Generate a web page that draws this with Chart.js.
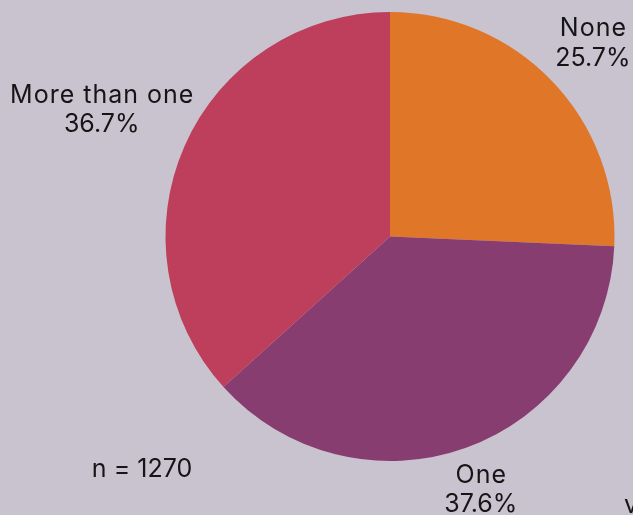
<!DOCTYPE html>
<html>
<head>
<meta charset="utf-8">
<script src="https://cdn.jsdelivr.net/npm/chart.js@4"></script>
<style>
  html, body { margin: 0; padding: 0; background: #c9c3d0; }
  #wrap { width: 633px; height: 515px; position: relative; }
</style>
</head>
<body>
<div id="wrap"><canvas id="myChart"></canvas></div>
<script>
const categorias = ['None', 'One', 'More than one'];
const percentuais = [25.7, 37.6, 36.7];
const cores = ['#e07628', '#883d71', '#bd3f5b'];
const totalN = 1270;

const fonte = '25px Inter, "DejaVu Sans", sans-serif';

// labels outside the slices, along the middle angle of each arc
const rotulosFora = {
    id: 'rotulosFora',
    afterDatasetsDraw(chart, args, opts) {
        const c = chart.ctx;
        const meta = chart.getDatasetMeta(0);
        c.save();
        c.font = fonte;
        c.fillStyle = '#151515';
        c.textAlign = 'center';
        c.textBaseline = 'alphabetic';
        meta.data.forEach((arc, i) => {
            const p = arc.getProps(['x', 'y', 'startAngle', 'endAngle', 'outerRadius'], true);
            const meio = (p.startAngle + p.endAngle) / 2;
            const dist = p.outerRadius * opts.distancia[i];
            const cx = p.x + Math.cos(meio) * dist;
            const cy = p.y + Math.sin(meio) * dist;
            c.letterSpacing = '1px';
            c.fillText(categorias[i], cx + 0.5, cy - 6);
            c.letterSpacing = '0px';
            c.fillText(percentuais[i].toFixed(1) + '%', cx, cy + 23.5);
        });
        // sample size note + cut-off text at the edge
        c.fillText('n = ' + totalN, 142, 477);
        c.textAlign = 'left';
        c.fillText('v', 624, 513);
        c.restore();
    }
};

const data = {
    labels: categorias,
    datasets: [{
        data: percentuais,
        backgroundColor: cores,
        borderWidth: 0
    }]
};

window.onload = () => {
    new Chart(document.getElementById('myChart'), {
        type: 'pie',
        data: data,
        plugins: [rotulosFora],
        options: {
            responsive: true,
            maintainAspectRatio: false,
            animation: false,
            layout: {
                padding: { left: 165.5, right: 18.5, top: 12, bottom: 54 }
            },
            plugins: {
                legend: { display: false },
                tooltip: { enabled: false },
                rotulosFora: { distancia: [1.251, 1.194, 1.405] }
            }
        }
    });
};
</script>
</body>
</html>
